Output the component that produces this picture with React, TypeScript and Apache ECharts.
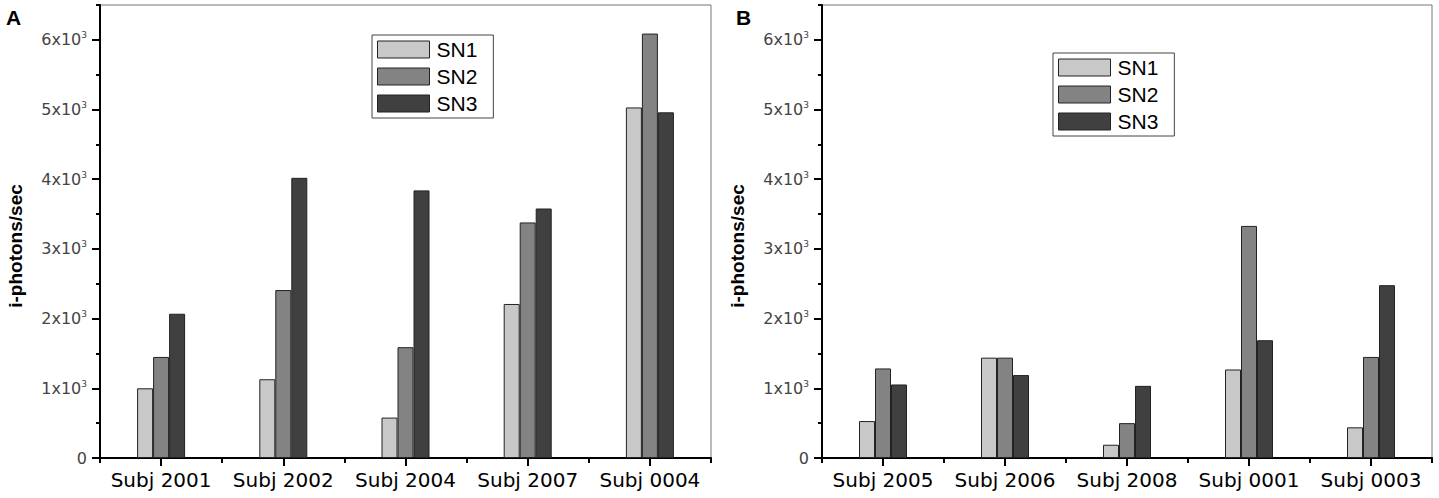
import React, { useEffect, useRef } from "react";
import * as echarts from "echarts";

const categoriesA = ["Subj 2001", "Subj 2002", "Subj 2004", "Subj 2007", "Subj 0004"];
const sn1A = [1000, 1130, 580, 2210, 5030];
const sn2A = [1450, 2410, 1590, 3380, 6090];
const sn3A = [2070, 4020, 3840, 3580, 4960];

const categoriesB = ["Subj 2005", "Subj 2006", "Subj 2008", "Subj 0001", "Subj 0003"];
const sn1B = [530, 1440, 190, 1270, 440];
const sn2B = [1285, 1440, 500, 3330, 1450];
const sn3B = [1055, 1190, 1035, 1690, 2480];

const seriesNames = ["SN1", "SN2", "SN3"];
const seriesColors = ["#c8c8c8", "#838383", "#404040"];
const yMajorTicks = [0, 1000, 2000, 3000, 4000, 5000, 6000];
const yMax = 6500;
const yTitle = "i-photons/sec";
const panelLabels = ["A", "B"];

const labelFont = "'DejaVu Sans', sans-serif";
const arialFont = "'Liberation Sans', Arial, sans-serif";

function yLabelFormatter(v: number) {
  if (v === 0) return "{a|0}";
  if (v % 1000 !== 0) return "";
  return `{a|${v / 1000}x10}{b|3}`;
}

function mainX(gridIndex: number, cats: string[]) {
  return {
    type: "category",
    gridIndex,
    position: "bottom",
    data: cats,
    boundaryGap: true,
    axisLine: { show: true, lineStyle: { color: "#000", width: 2 } },
    axisTick: { show: true, interval: 0, alignWithLabel: false, length: 5, inside: false, lineStyle: { color: "#000", width: 2 } },
    axisLabel: { show: true, interval: 0, margin: 12, fontSize: 20, fontFamily: labelFont, color: "#000" },
    splitLine: { show: false },
  };
}

function tickX(gridIndex: number, cats: string[]) {
  return {
    type: "category",
    gridIndex,
    position: "bottom",
    data: cats,
    boundaryGap: true,
    axisLine: { show: false },
    axisTick: { show: true, interval: 0, alignWithLabel: true, length: 8, lineStyle: { color: "#000", width: 2 } },
    axisLabel: { show: false, interval: 0 },
    splitLine: { show: false },
  };
}

function mainY(gridIndex: number, withName: boolean) {
  return {
    type: "value",
    gridIndex,
    position: "left",
    min: 0,
    max: yMax,
    interval: 500,
    name: withName ? yTitle : "",
    nameLocation: "middle",
    nameGap: 75,
    nameTextStyle: { fontSize: 19, fontWeight: "bold", fontFamily: arialFont, color: "#000", padding: [0, 29, 0, 0] },
    axisLine: { show: true, lineStyle: { color: "#000", width: 2 } },
    axisTick: { show: true, length: 4, lineStyle: { color: "#000", width: 2 } },
    axisLabel: {
      show: true,
      margin: 13,
      formatter: yLabelFormatter,
      rich: {
        a: { fontSize: 16, fontFamily: labelFont, color: "#444", lineHeight: 18, verticalAlign: "middle" },
        b: { fontSize: 9, fontFamily: labelFont, color: "#444", lineHeight: 10, verticalAlign: "top" },
      },
    },
    splitLine: { show: false },
  };
}

function tickY(gridIndex: number) {
  return {
    type: "value",
    gridIndex,
    position: "left",
    min: 0,
    max: yMax,
    interval: 1000,
    axisLine: { show: false },
    axisTick: { show: true, length: 8, customValues: yMajorTicks, lineStyle: { color: "#000", width: 2 } },
    axisLabel: { show: false },
    splitLine: { show: false },
  };
}

function barSeries(name: string, color: string, data: number[], axisIndex: number) {
  return {
    type: "bar",
    name,
    xAxisIndex: axisIndex,
    yAxisIndex: axisIndex,
    data,
    barWidth: 16,
    barGap: "0%",
    itemStyle: { color, borderColor: "#222", borderWidth: 1 },
    emphasis: { disabled: true },
  };
}

function legendAt(left: number, top: number) {
  return {
    show: true,
    orient: "vertical",
    left,
    top,
    data: seriesNames,
    icon: "rect",
    itemWidth: 52,
    itemHeight: 17,
    itemGap: 0,
    padding: [1, 16, 1, 5],
    borderColor: "#444",
    borderWidth: 1,
    backgroundColor: "#fff",
    selectedMode: false,
    itemStyle: { borderColor: "#222", borderWidth: 1 },
    textStyle: { fontSize: 21, fontFamily: arialFont, color: "#000", lineHeight: 27, padding: [0, 0, 0, 2] },
  };
}

export default function App() {
  const ref = useRef<HTMLDivElement>(null);
  useEffect(() => {
    document.body.style.margin = "0";
    if (!ref.current) return;
    const chart = echarts.init(ref.current, null, { renderer: "svg" });
    const option: any = {
      animation: false,
      backgroundColor: "#fff",
      grid: [
        { left: 100, right: 728, top: 5, bottom: 40, show: true, borderColor: "#777", borderWidth: 1, backgroundColor: "transparent" },
        { left: 822, right: 7, top: 5, bottom: 40, show: true, borderColor: "#777", borderWidth: 1, backgroundColor: "transparent" },
      ],
      xAxis: [mainX(0, categoriesA), tickX(0, categoriesA), mainX(1, categoriesB), tickX(1, categoriesB)],
      yAxis: [mainY(0, true), tickY(0), mainY(1, true), tickY(1)],
      legend: [legendAt(372, 35), legendAt(1053, 53)],
      series: [
        barSeries(seriesNames[0], seriesColors[0], sn1A, 0),
        barSeries(seriesNames[1], seriesColors[1], sn2A, 0),
        barSeries(seriesNames[2], seriesColors[2], sn3A, 0),
        barSeries(seriesNames[0], seriesColors[0], sn1B, 2),
        barSeries(seriesNames[1], seriesColors[1], sn2B, 2),
        barSeries(seriesNames[2], seriesColors[2], sn3B, 2),
      ],
      graphic: [
        { type: "text", left: 6, top: 7, style: { text: panelLabels[0], fontSize: 21, fontWeight: "bold", fontFamily: arialFont, fill: "#000" } },
        { type: "text", left: 736, top: 7, style: { text: panelLabels[1], fontSize: 21, fontWeight: "bold", fontFamily: arialFont, fill: "#000" } },
      ],
    };
    chart.setOption(option);
    return () => chart.dispose();
  }, []);
  return <div ref={ref} style={{ width: 1439, height: 498 }} />;
}
